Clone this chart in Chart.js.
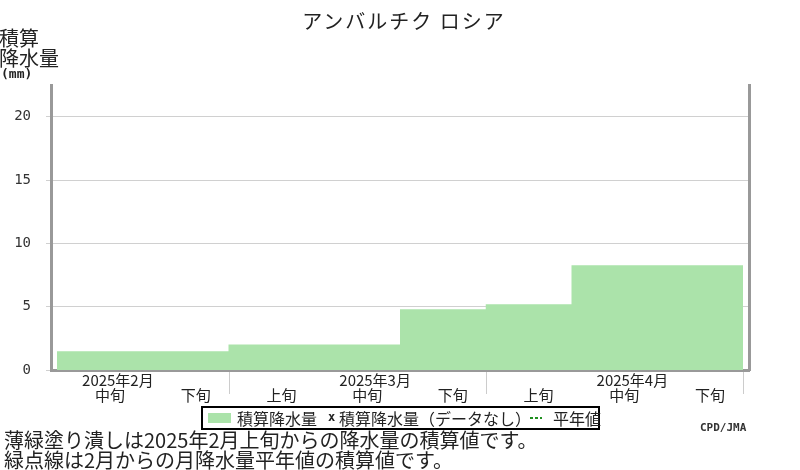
<!DOCTYPE html>
<html lang="ja">
<head>
<meta charset="utf-8">
<title>アンバルチク ロシア</title>
<script src="https://cdn.jsdelivr.net/npm/chart.js@4.4.1/dist/chart.umd.min.js"></script>
<style>
  html, body { margin: 0; padding: 0; background: #fff; }
  body { width: 800px; height: 470px; position: relative; overflow: hidden;
         font-family: "Noto Sans CJK JP", sans-serif; color: #222; }
  #chart { position: absolute; left: 0; top: 0; }
  .txt { position: absolute; white-space: nowrap; line-height: 1; }
  #title { left: 0; width: 808px; top: 11px; text-align: center; font-size: 20px; letter-spacing: 2px; }
  #ylab { left: -1px; top: 28px; font-size: 20px; line-height: 20px; }
  #yunit { left: 1px; top: 66px; font: bold 13px "DejaVu Sans Mono", monospace; }
  #legend { position: absolute; left: 201px; top: 406px; width: 395px; height: 20px;
            border: 2px solid #000; font-size: 16px; }
  #legend span { position: absolute; top: 1px; line-height: 18px; white-space: nowrap; }
  #legend .swatch { left: 5px; top: 5px; width: 23px; height: 10px; background: #abe3aa; }
  #legend .xmark { left: 125px; top: 0; font: bold 12px "DejaVu Sans Mono", monospace; line-height: 18px; }
  #legend .dots { left: 327px; top: 9px; width: 12px; height: 2px;
                  background: repeating-linear-gradient(90deg, #1f8f1f 0 3px, transparent 3px 5px); }
  #credit { left: 700px; top: 421px; font: bold 11px "DejaVu Sans Mono", monospace; color: #333; }
  #notes { left: 4px; top: 430px; font-size: 20px; line-height: 20px; }
</style>
</head>
<body>
<canvas id="chart" width="800" height="470"></canvas>
<div class="txt" id="title">アンバルチク ロシア</div>
<div class="txt" id="ylab">積算<br>降水量</div>
<div class="txt" id="yunit">(mm)</div>
<div id="legend">
  <span class="swatch"></span><span style="left:34px">積算降水量</span>
  <span class="xmark">x</span><span style="left:136px">積算降水量（データなし）</span>
  <span class="dots"></span><span style="left:350px">平年値</span>
</div>
<div class="txt" id="credit">CPD/JMA</div>
<div class="txt" id="notes">薄緑塗り潰しは2025年2月上旬からの降水量の積算値です。<br>緑点線は2月からの月降水量平年値の積算値です。</div>
<script>
// dekads shown on the x axis (2025年2月中旬 .. 4月下旬)
const dekadLabels = ['中旬', '下旬', '上旬', '中旬', '下旬', '上旬', '中旬', '下旬'];
// accumulated precipitation (mm) at each dekad
const dekadTotals = [1.49, 1.49, 2.02, 2.02, 4.79, 5.19, 8.27, 8.27];
const monthLabels = ['2025年2月', '2025年3月', '2025年4月'];
const monthLabelDekad = [0, 3, 6];   // dekad under which the month name sits
const monthEnds = [2, 5, 8];         // dekad boundaries where a month ends
const yTicks = [0, 5, 10, 15, 20];

// step outline of the filled area, one flat piece per dekad
const stepPoints = [];
dekadTotals.forEach((v, i) => {
    stepPoints.push({ x: i, y: v }, { x: i + 1, y: v });
});

const monthMarks = {
    id: 'monthMarks',
    afterDraw(chart) {
        const { ctx, chartArea } = chart;
        const x = chart.scales.x;
        ctx.save();
        ctx.strokeStyle = '#cccccc';
        ctx.lineWidth = 1;
        monthEnds.forEach(v => {
            const px = Math.round(x.getPixelForValue(v)) + 0.5;
            ctx.beginPath();
            ctx.moveTo(px, chartArea.bottom + 2);
            ctx.lineTo(px, chartArea.bottom + 24);
            ctx.stroke();
        });
        ctx.font = '15px "Noto Sans CJK JP"';
        ctx.fillStyle = '#222';
        ctx.textAlign = 'center';
        ctx.textBaseline = 'top';
        monthLabels.forEach((t, i) => {
            const px = x.getPixelForValue(monthLabelDekad[i] + 0.5) + 18;
            ctx.fillText(t, px, chartArea.bottom + 3);
        });
        ctx.restore();
    }
};

document.addEventListener('DOMContentLoaded', function() {
    const $ctx = document.getElementById('chart');

    new Chart($ctx, {
        type: 'line',
        data: {
            datasets: [{
                label: '積算降水量',
                data: stepPoints,
                backgroundColor: '#abe3aa',
                borderColor: 'rgba(0,0,0,0)',
                borderWidth: 0,
                pointRadius: 0,
                fill: 'origin',
                tension: 0
            }]
        },
        options: {
            responsive: false,
            animation: false,
            devicePixelRatio: 1,
            layout: { padding: { top: 85, left: 0, right: 0, bottom: 0 } },
            plugins: {
                legend: { display: false },
                title: { display: false },
                tooltip: { enabled: false }
            },
            scales: {
                x: {
                    type: 'linear',
                    min: -0.07,
                    max: 8.07,
                    afterBuildTicks: s => { s.ticks = dekadLabels.map((_, i) => ({ value: i + 0.5 })); },
                    afterFit: s => { s.height = 100; },
                    ticks: {
                        callback: (v, i) => dekadLabels[i],
                        autoSkip: false,
                        maxRotation: 0,
                        labelOffset: 10,
                        padding: 8,
                        color: '#222',
                        font: { family: 'Noto Sans CJK JP', size: 15 }
                    },
                    grid: { display: false },
                    border: { color: '#999999', width: 3 }
                },
                y: {
                    min: 0,
                    max: 22.5,
                    afterBuildTicks: s => { s.ticks = yTicks.map(v => ({ value: v })); },
                    afterFit: s => { s.width = 51; },
                    ticks: {
                        padding: 15,
                        color: '#333',
                        font: { family: 'DejaVu Sans Mono', size: 14 }
                    },
                    grid: { color: '#d0d0d0', tickLength: 5 },
                    border: { color: '#999999', width: 3 }
                },
                y2: {
                    position: 'right',
                    min: 0,
                    max: 22.5,
                    afterFit: s => { s.width = 51; },
                    ticks: { display: false },
                    grid: { display: false },
                    border: { color: '#999999', width: 3 }
                }
            }
        },
        plugins: [monthMarks]
    });
}, false);
</script>
</body>
</html>
